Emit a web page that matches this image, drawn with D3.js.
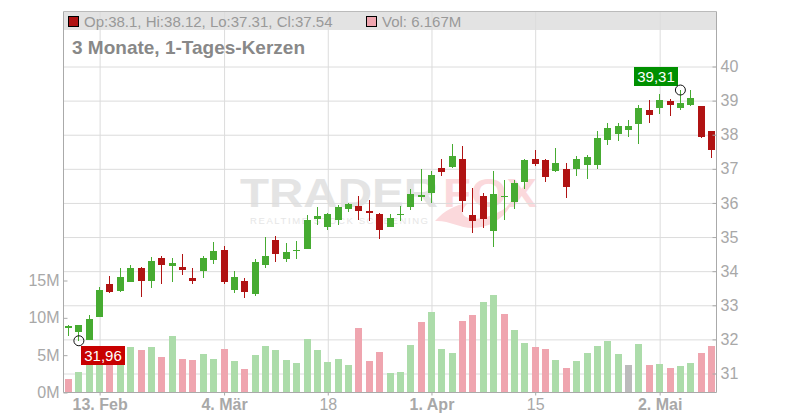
<!DOCTYPE html>
<meta charset="utf-8">
<style>

body { margin: 0; background: #fff; }

text { font-family: "Liberation Sans", sans-serif; }

.axis path { stroke: #aaa; fill: none; }
.axis line { stroke: #aaa; }
.axis text { font-size: 16px; fill: #a8a8a8; }
.grid line { stroke: #dcdcdc; }
.grid path { stroke: none; }
.grid text { display: none; }
.bold { font-weight: bold; }

</style>
<body>
<script src="https://cdnjs.cloudflare.com/ajax/libs/d3/7.8.5/d3.min.js"></script>
<script>

// daily candles, oldest first
var opens = [32.34,32.21,31.98,32.65,33.62,33.41,33.68,34.09,33.70,34.38,34.14,34.11,33.79,34.00,34.32,34.61,
             33.44,33.70,33.32,34.17,34.91,34.35,34.59,34.64,35.52,35.29,35.49,35.81,35.90,35.76,35.67,35.29,
             35.64,35.87,36.17,36.28,37.02,37.05,37.28,35.64,36.20,35.17,36.17,36.02,36.61,37.28,37.25,36.93,
             36.99,36.99,37.10,37.10,37.84,38.01,38.13,38.31,38.72,38.77,38.98,38.77,38.86,38.83,38.10];
var highs = [32.41,32.41,32.71,33.53,33.85,34.09,34.17,34.11,34.41,34.44,34.38,34.50,34.09,34.44,34.85,34.73,
             34.00,33.79,34.35,34.99,35.02,34.82,34.88,35.64,35.87,35.70,35.93,35.99,36.20,36.08,35.70,35.67,
             35.90,36.40,36.99,36.93,37.28,37.72,37.66,36.43,36.28,36.93,36.67,36.67,37.28,37.54,37.28,37.60,
             37.16,37.37,37.40,38.10,38.34,38.34,38.42,38.86,39.01,39.18,39.04,39.31,39.31,38.83,38.12];
var lows = [32.10,31.96,31.97,32.65,33.35,33.38,33.68,33.24,33.50,33.62,33.68,33.88,33.62,33.79,34.20,33.62,
            33.35,33.21,33.27,34.09,34.26,34.26,34.35,34.64,35.35,35.20,35.35,35.73,35.49,35.46,34.94,35.29,
            35.46,35.79,36.05,35.99,36.78,37.02,35.73,35.11,35.26,34.70,35.49,35.81,36.40,37.07,36.61,36.90,
            36.14,36.78,36.69,36.99,37.69,37.81,37.93,37.72,38.34,38.60,38.54,38.72,38.83,37.90,37.31];
var closes = [32.39,32.41,32.59,33.44,33.38,33.82,34.09,33.70,34.29,34.17,34.23,34.03,33.70,34.38,34.58,33.68,
              33.82,33.38,34.26,34.44,34.50,34.55,34.61,35.49,35.61,35.67,35.87,35.96,35.76,35.70,35.20,35.55,
              35.67,36.25,36.23,36.81,36.90,37.37,36.05,35.46,35.52,36.25,36.20,36.58,37.25,37.13,36.75,37.16,
              36.46,37.28,37.34,37.90,38.19,38.25,38.25,38.77,38.57,39.01,38.86,38.92,39.07,37.93,37.54];
// volume in millions
var volumes = [1.79,2.72,5.0,5.6,4.5,5.5,6.07,5.67,6.07,4.73,7.54,4.46,4.33,5.13,4.46,5.80,
               4.20,3.13,5.00,6.21,5.67,4.33,3.93,7.14,5.67,4.06,4.46,3.66,8.62,4.20,5.40,2.59,
               2.72,6.34,9.42,10.76,5.80,5.27,9.55,10.36,12.10,13.04,10.49,8.35,6.61,6.07,5.80,4.33,
               3.26,4.20,5.27,6.21,6.88,5.13,3.66,6.47,3.66,3.79,3.26,3.53,3.93,5.27,6.167];

var priceTicks = [31,32,33,34,35,36,37,38,39,40];
var volumeTicks = [0,5,10,15];
var volumeLabels = ["0M","5M","10M","15M"];
var dateTicks = [3,15,25,35,45,57];
var dateLabels = ["13. Feb","4. Mär","18","1. Apr","15","2. Mai"];
var boldLabels = ["13. Feb","4. Mär","1. Apr","2. Mai"];

var lowIndex = 1,
    highIndex = 59;

var width = 800,
    height = 420,
    plotLeft = 63.5,
    plotRight = 716.5,
    plotTop = 11.5,
    plotBottom = 392.5;

var green = "#46ab31",
    red = "#b01313",
    lightGreen = "#acdcaa",
    lightRed = "#efa5af";

var svg = d3.select("body").append("svg")
    .attr("width", width)
    .attr("height", height)
    .style("display", "block");

var x = d3.scaleLinear().domain([0, 62]).range([68.5, 711.5]);
var y = d3.scaleLinear().domain([31, 40]).range([373.5, 66.5]);
var v = d3.scaleLinear().domain([0, 15]).range([392.5, 280.5]);

function col(i) { return Math.floor(x(i)); }

// header band
svg.append("rect")
    .attr("x", plotLeft).attr("y", plotTop)
    .attr("width", plotRight - plotLeft).attr("height", 18.5)
    .attr("fill", "#e3e3e3");

// watermark
var mark = svg.append("g");
mark.append("text")
    .attr("x", 240).attr("y", 207)
    .attr("textLength", 198).attr("lengthAdjust", "spacingAndGlyphs")
    .style("font-size", "41px").style("font-weight", "bold")
    .attr("fill", "#e4e4e4")
    .text("TRADER");
mark.append("text")
    .attr("x", 443).attr("y", 207)
    .attr("textLength", 94).attr("lengthAdjust", "spacingAndGlyphs")
    .style("font-size", "41px").style("font-weight", "bold")
    .attr("fill", "#fbd9dc")
    .text("FOX");
mark.append("text")
    .attr("x", 250).attr("y", 224)
    .attr("textLength", 178)
    .style("font-size", "9.5px")
    .attr("fill", "#e6e6e6")
    .text("REALTIME STOCK SCREENING");
mark.append("path")
    .attr("d", "M435,221C445,210 455,205 468,203C462,209 460,214 466,217C478,222 498,215 512,203C505,218 490,228 472,228C460,228 448,220 435,221Z")
    .attr("fill", "#fbd9dc");

// grid
svg.append("g")
    .attr("class", "grid")
    .attr("transform", "translate(" + plotRight + ",0)")
    .call(d3.axisRight(y).tickValues(priceTicks).tickSize(-(plotRight - plotLeft)));

svg.append("g")
    .attr("class", "grid")
    .attr("transform", "translate(0," + plotBottom + ")")
    .call(d3.axisBottom(x).tickValues(dateTicks).tickSize(-(plotBottom - plotTop)));

// volume bars, coloured by the change of the close
function volumeColor(d, i) {
  if (i == 0 || closes[i] < closes[i - 1]) return lightRed;
  if (closes[i] == closes[i - 1]) return "#bbb";
  return lightGreen;
}

svg.append("g").selectAll("rect")
    .data(volumes)
    .enter().append("rect")
      .attr("x", function(d, i) { return col(i) - 3; })
      .attr("y", function(d) { return Math.round(v(d)); })
      .attr("width", 7)
      .attr("height", function(d) { return 392 - Math.round(v(d)); })
      .attr("fill", volumeColor);

// candles
var candles = svg.append("g").selectAll("g")
    .data(closes)
    .enter().append("g")
      .attr("fill", function(d, i) { return d < opens[i] ? red : green; });

candles.append("rect")
    .attr("x", function(d, i) { return col(i); })
    .attr("y", function(d, i) { return Math.round(y(highs[i])); })
    .attr("width", 1)
    .attr("height", function(d, i) { return Math.round(y(lows[i])) - Math.round(y(highs[i])); });

candles.append("rect")
    .attr("x", function(d, i) { return col(i) - 3; })
    .attr("y", function(d, i) { return Math.round(y(Math.max(d, opens[i]))); })
    .attr("width", 7)
    .attr("height", function(d, i) {
      return Math.max(1, Math.round(y(Math.min(d, opens[i]))) - Math.round(y(Math.max(d, opens[i]))));
    });

// axes
var rightAxis = svg.append("g")
    .attr("class", "axis")
    .attr("transform", "translate(" + plotRight + ",0)")
    .call(d3.axisRight(y).tickValues(priceTicks).tickSizeInner(-4).tickSizeOuter(0).tickPadding(4));
rightAxis.select(".domain").attr("d", "M0," + plotTop + "V" + plotBottom);

var leftAxis = svg.append("g")
    .attr("class", "axis")
    .attr("transform", "translate(" + plotLeft + ",0)")
    .call(d3.axisLeft(v).tickValues(volumeTicks)
      .tickFormat(function(d, i) { return volumeLabels[i]; })
      .tickSizeInner(-4).tickSizeOuter(0).tickPadding(4));
leftAxis.select(".domain").attr("d", "M0," + plotTop + "V" + plotBottom);

var bottomAxis = svg.append("g")
    .attr("class", "axis")
    .attr("transform", "translate(0," + plotBottom + ")")
    .call(d3.axisBottom(x).tickValues(dateTicks)
      .tickFormat(function(d, i) { return dateLabels[i]; })
      .tickSizeInner(3).tickSizeOuter(0).tickPadding(3));
bottomAxis.select(".domain").attr("d", "M" + plotLeft + ",0H" + plotRight);
bottomAxis.selectAll("text")
    .classed("bold", function(d, i) { return boldLabels.indexOf(dateLabels[i]) >= 0; });

svg.append("line")
    .attr("x1", plotLeft).attr("x2", plotRight)
    .attr("y1", plotTop).attr("y2", plotTop)
    .attr("stroke", "#bbb");

// header text
svg.append("rect")
    .attr("x", 68.5).attr("y", 16.5).attr("width", 10).attr("height", 10)
    .attr("fill", red).attr("stroke", "#000");
svg.append("text")
    .attr("x", 84).attr("y", 27)
    .style("font-size", "15px")
    .attr("fill", "#999")
    .text("Op:38.1, Hi:38.12, Lo:37.31, Cl:37.54");
svg.append("rect")
    .attr("x", 366.5).attr("y", 16.5).attr("width", 10).attr("height", 10)
    .attr("fill", lightRed).attr("stroke", "#000");
svg.append("text")
    .attr("x", 382).attr("y", 27)
    .style("font-size", "15px")
    .attr("fill", "#999")
    .text("Vol: 6.167M");
svg.append("text")
    .attr("x", 72).attr("y", 54)
    .style("font-size", "19px").style("font-weight", "bold")
    .attr("fill", "#888")
    .text("3 Monate, 1-Tages-Kerzen");

// high and low markers
function marker(i, value, color, dx, dy) {
  var cx = x(i), cy = y(value);
  svg.append("rect")
      .attr("x", Math.round(cx) + dx).attr("y", Math.round(cy) + dy)
      .attr("width", 44).attr("height", 19)
      .attr("fill", color);
  svg.append("text")
      .attr("x", Math.round(cx) + dx + 22).attr("y", Math.round(cy) + dy + 15)
      .attr("text-anchor", "middle")
      .style("font-size", "15px")
      .attr("fill", "#fff")
      .text(d3.format(".2f")(value).replace(".", ","));
  svg.append("circle")
      .attr("cx", cx).attr("cy", cy).attr("r", 5)
      .attr("fill", "none").attr("stroke", "#111");
}

marker(lowIndex, lows[lowIndex], "#c80000", 2, 5);
marker(highIndex, highs[highIndex], "#009000", -46, -23);

</script>
